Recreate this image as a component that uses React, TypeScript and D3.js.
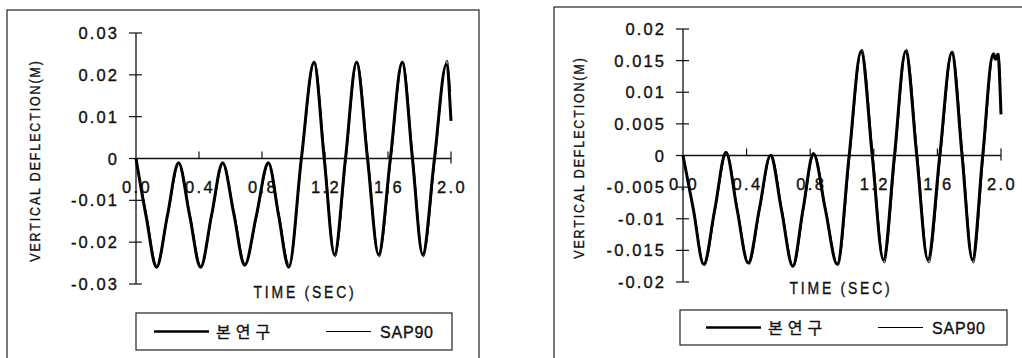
import React from 'react';
import * as d3 from 'd3';

// time ticks shared by both charts
const xTicks = [0, 0.4, 0.8, 1.2, 1.6, 2.0];
const xTickLabels = ['0.0', '0.4', '0.8', '1.2', '1.6', '2.0'];

// left chart
const leftYTicks = [0.03, 0.02, 0.01, 0, -0.01, -0.02, -0.03];
const leftYLabels = ['0.03', '0.02', '0.01', '0', '-0.01', '-0.02', '-0.03'];
const leftTime = [0, 0.065, 0.13, 0.2, 0.27, 0.34, 0.41, 0.48, 0.55, 0.62, 0.69, 0.765, 0.84, 0.905, 0.97,
  1.05, 1.13, 1.195, 1.26, 1.33, 1.40, 1.47, 1.54, 1.615, 1.69, 1.755, 1.82, 1.895, 1.97, 2.0];
const leftStudy = [0, -0.014, -0.026, -0.0135, -0.001, -0.0135, -0.026, -0.0135, -0.001, -0.013, -0.0255, -0.0135, -0.001, -0.0135, -0.026,
  0.0, 0.023, 0.0, -0.023, 0.0, 0.023, 0.0, -0.023, 0.0, 0.023, 0.0, -0.023, 0.0, 0.0225, 0.009];
const leftSapTime = [0, 0.07, 0.135, 0.205, 0.275, 0.345, 0.415, 0.485, 0.555, 0.625, 0.695, 0.77, 0.845, 0.91, 0.975,
  1.055, 1.135, 1.2, 1.265, 1.335, 1.405, 1.475, 1.545, 1.62, 1.695, 1.76, 1.825, 1.9, 1.975, 1.998];
const leftSap = [0, -0.0138, -0.0258, -0.0133, -0.0012, -0.0135, -0.0258, -0.0133, -0.0012, -0.013, -0.0253, -0.0133, -0.0012, -0.0135, -0.0255,
  0.0005, 0.0232, 0.0, -0.0235, 0.0, 0.0232, 0.0, -0.0235, 0.0, 0.0232, 0.0, -0.0235, 0.0, 0.0235, 0.016];

// right chart
const rightYTicks = [0.02, 0.015, 0.01, 0.005, 0, -0.005, -0.01, -0.015, -0.02];
const rightYLabels = ['0.02', '0.015', '0.01', '0.005', '0', '-0.005', '-0.01', '-0.015', '-0.02'];
const rightTime = [0, 0.065, 0.13, 0.2, 0.27, 0.34, 0.41, 0.48, 0.55, 0.62, 0.69, 0.755, 0.82, 0.895, 0.97,
  1.045, 1.12, 1.19, 1.26, 1.33, 1.40, 1.47, 1.54, 1.615, 1.69, 1.755, 1.82, 1.885, 1.95, 1.965, 1.98, 2.0];
const rightStudy = [0, -0.0085, -0.0172, -0.0085, 0.0005, -0.0085, -0.017, -0.0085, 0.0, -0.0087, -0.0175, -0.0085, 0.0003, -0.0085, -0.0172,
  0.0, 0.0165, 0.0, -0.0165, 0.0, 0.0165, 0.0, -0.0165, 0.0, 0.0163, 0.0, -0.0165, 0.0, 0.016, 0.0152, 0.016, 0.0065];
const rightSapTime = [0, 0.07, 0.136, 0.206, 0.276, 0.346, 0.416, 0.486, 0.556, 0.626, 0.696, 0.761, 0.826, 0.901, 0.976,
  1.051, 1.126, 1.196, 1.266, 1.336, 1.406, 1.476, 1.546, 1.621, 1.696, 1.761, 1.826, 1.891, 1.956, 1.97, 1.985, 1.998];
const rightSap = [0, -0.0088, -0.0174, -0.0083, 0.0004, -0.0087, -0.0172, -0.0083, 0.0002, -0.0088, -0.0176, -0.0083, 0.0002, -0.0087, -0.0174,
  0.0002, 0.0168, 0.0, -0.017, 0.0, 0.0168, 0.0, -0.017, 0.0, 0.0165, 0.0, -0.017, 0.0, 0.0163, 0.0155, 0.0162, 0.012];

const legendNames = ['본연구', 'SAP90'];

const FONT = '"Liberation Sans", Arial, sans-serif';

type PanelProps = {
  frame: [number, number, number, number];
  xRange: [number, number];
  yDomain: [number, number];
  yRange: [number, number];
  yTicks: number[];
  yLabels: string[];
  study: [number[], number[]];
  sap: [number[], number[]];
  yTitleX: number;
  xTitleX: number;
  xTitleY: number;
  legend: { x: number; y: number; w: number; h: number; l1: number; l2: number };
};

const Panel = (p: PanelProps) => {
  const x = d3.scaleLinear().domain([0, 2]).range(p.xRange);
  const y = d3.scaleLinear().domain(p.yDomain).range(p.yRange);
  const line = d3.line<[number, number]>()
    .x(d => x(d[0]))
    .y(d => y(d[1]))
    .curve(d3.curveMonotoneX);
  const toPts = (s: [number[], number[]]) => s[0].map((t, i) => [t, s[1][i]] as [number, number]);
  const x0 = x(0);
  const y0 = y(0);
  const [fx, fy, fw, fh] = p.frame;
  const lg = p.legend;
  const cy = lg.y + lg.h / 2;
  const ink = { stroke: '#111', strokeWidth: 0.35 };

  return (
    <g fontFamily={FONT} fill="#111">
      <rect x={fx} y={fy} width={fw} height={fh} fill="none" stroke="#222" strokeWidth={1.2} />

      {/* y axis */}
      <line x1={x0} x2={x0} y1={y(p.yDomain[1])} y2={y(p.yDomain[0])} stroke="#111" strokeWidth={1.3} />
      {p.yTicks.map((v, i) => (
        <g key={'y' + i}>
          <line x1={x0 - 7} x2={v === 0 ? x0 : x0 + 6} y1={y(v)} y2={y(v)} stroke="#111" strokeWidth={1.2} />
          <text x={x0 - 17} y={y(v) + 6} textAnchor="end" fontSize={16.5} letterSpacing={2.1} {...ink}>{p.yLabels[i]}</text>
        </g>
      ))}

      {/* x axis along zero */}
      <line x1={x0} x2={x(2)} y1={y0} y2={y0} stroke="#111" strokeWidth={1.3} />
      {xTicks.map((t, i) => (
        <g key={'x' + i}>
          {t > 0 && <line x1={x(t)} x2={x(t)} y1={y0 - 7} y2={t === 2 ? y0 + 5 : y0} stroke="#111" strokeWidth={1.2} />}
          <text x={x(t) + 1} y={y0 + 34} textAnchor="middle" fontSize={16.5} letterSpacing={2.4} {...ink}>{xTickLabels[i]}</text>
        </g>
      ))}

      {/* series */}
      <path d={line(toPts(p.study)) || ''} fill="none" stroke="#000" strokeWidth={3} strokeLinejoin="round" />
      <path d={line(toPts(p.sap)) || ''} fill="none" stroke="#000" strokeWidth={1} />

      {/* titles */}
      <text transform={`translate(${p.xTitleX},${p.xTitleY}) scale(0.82,1)`} textAnchor="middle"
        fontSize={17} letterSpacing={3.4} {...ink}>TIME (SEC)</text>
      <text transform={`translate(${p.yTitleX},${(p.yRange[0] + p.yRange[1]) / 2 + 2}) rotate(-90) scale(0.8,1)`}
        textAnchor="middle" fontSize={15.5} letterSpacing={2.4} {...ink}>VERTICAL DEFLECTION(M)</text>

      {/* legend */}
      <rect x={lg.x} y={lg.y} width={lg.w} height={lg.h} fill="none" stroke="#222" strokeWidth={1.2} />
      <line x1={lg.l1} x2={lg.l1 + 55} y1={cy} y2={cy} stroke="#000" strokeWidth={2.4} />
      <text x={lg.l1 + 62} y={cy + 6} fontSize={16} letterSpacing={5}
        fontFamily='"Noto Sans CJK KR", sans-serif' {...ink}>{legendNames[0]}</text>
      <line x1={lg.l2} x2={lg.l2 + 45} y1={cy} y2={cy} stroke="#000" strokeWidth={1} />
      <text x={lg.l2 + 54} y={cy + 6} fontSize={16} letterSpacing={0.8} {...ink}>{legendNames[1]}</text>
    </g>
  );
};

export default function App() {
  return (
    <svg width={1022} height={358} style={{ position: 'absolute', left: 0, top: 0, background: '#fff' }}>
      <Panel
        frame={[7, 10, 472, 352]}
        xRange={[136, 451]}
        yDomain={[-0.03, 0.03]}
        yRange={[284, 33]}
        yTicks={leftYTicks}
        yLabels={leftYLabels}
        study={[leftTime, leftStudy]}
        sap={[leftSapTime, leftSap]}
        yTitleX={40}
        xTitleX={305}
        xTitleY={298}
        legend={{ x: 136, y: 313, w: 316, h: 37, l1: 154, l2: 326 }}
      />
      <Panel
        frame={[554, 7, 472, 355]}
        xRange={[683, 1001]}
        yDomain={[-0.02, 0.02]}
        yRange={[282, 29]}
        yTicks={rightYTicks}
        yLabels={rightYLabels}
        study={[rightTime, rightStudy]}
        sap={[rightSapTime, rightSap]}
        yTitleX={584}
        xTitleX={841}
        xTitleY={294}
        legend={{ x: 680, y: 310, w: 327, h: 35, l1: 706, l2: 878 }}
      />
    </svg>
  );
}
